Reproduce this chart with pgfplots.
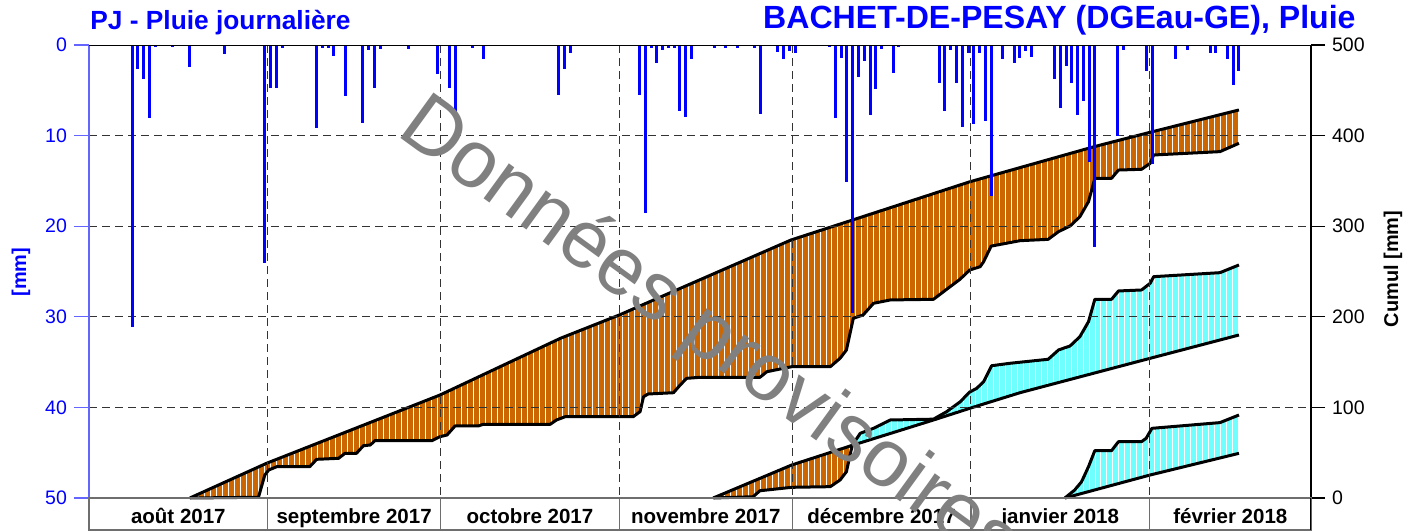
\documentclass[border=0pt]{standalone}
\usepackage{fontspec}
\setmainfont{Liberation Sans}
\usepackage{pgfplots}
\pgfplotsset{compat=1.18}
\usepgfplotslibrary{fillbetween}
\usetikzlibrary{patterns}
\definecolor{orangeC}{RGB}{204,102,0}
\definecolor{cyanC}{RGB}{110,255,255}
\definecolor{bandgray}{RGB}{110,110,110}
\definecolor{wmgray}{RGB}{128,128,128}
\definecolor{axblue}{RGB}{100,100,255}
\begin{document}
\begin{tikzpicture}
% ---------------- cumulative axis ----------------
\begin{axis}[
  at={(0,0)}, anchor=south west, scale only axis,
  width=611bp, height=226.5bp,
  xmin=0, xmax=212, ymin=0, ymax=500,
  axis x line=none, axis y line*=right,
  y axis line style={black, line width=0.6bp},
  ytick={0,100,200,300,400,500},
  tick align=outside, major tick length=7bp,
  ytick style={black, line width=0.6bp},
  yticklabel style={font=\fontsize{9.8}{11}\selectfont},
  /pgf/number format/assume math mode=true,
  clip=false,
]
\addplot[draw=none, name path=n1] coordinates {(17.5,0) (30.8,38.3) (60.9,113.7) (81.8,176.3) (92,202) (121.8,284.8) (132.5,306.9) (152.8,349) (174.4,387.8) (184,403.5) (199.5,428.3)};
\addplot[draw=none, name path=a1] coordinates {(17.5,0) (29.4,0.8) (30.5,25.4) (31.2,31) (32.6,34.6) (38.3,34.6) (39.5,42.7) (43.3,43.8) (44.4,49.3) (46.4,49.3) (47.6,57.7) (48.8,58.5) (49.6,63.3) (59.5,63.3) (60.9,67.7) (62.1,69.5) (63.5,79.5) (67.5,79.5) (68.4,81.3) (80,81.3) (81.1,86.1) (82.6,89.7) (94.4,89.7) (95.6,95.3) (96.2,111.8) (97,114.8) (101.4,116.2) (102.6,125) (103.7,132.1) (106,133.2) (116.4,133.2) (117.6,139.4) (121.9,144.9) (128.6,144.9) (130.3,154.2) (131.4,163.4) (132.6,198.4) (134.3,202) (136.1,214.9) (139,218.6) (146.5,219.3) (148.8,230.4) (151.1,241.4) (152.8,251.7) (154.6,255.3) (155.2,260.8) (156.5,278) (161.5,284) (166.4,285.5) (168.2,294) (170.2,300.2) (171.9,310.5) (173.4,327.1) (174.5,352.9) (177.4,352.9) (178.6,362) (182.6,362.8) (184.1,369.4) (184.7,378.6) (196.2,382.3) (199.5,391.5)};
\addplot[draw=none, name path=n2] coordinates {(108.3,0) (121.9,36.4) (132.4,58.1) (146.5,86.1) (152.8,99) (161.5,116.2) (184.1,154.2) (199.5,179.9)};
\addplot[draw=none, name path=a2] coordinates {(108.3,0) (115.2,1.4) (116.4,8) (121.9,11.8) (128.6,12.5) (130.3,19.9) (131.4,29) (132.4,58.1) (133.8,71.4) (136.1,76.9) (139,86.1) (146.5,87) (148.8,95.3) (151.1,106) (152.8,117) (154,121) (155.2,128.4) (156.6,146) (159.8,148.7) (166.4,153.1) (168.2,163.4) (170.2,167.8) (171.9,178) (173.4,194.6) (174.5,219.3) (177.4,219.3) (178.6,228.5) (182.6,229.6) (184.1,237) (184.7,244.3) (196.2,248.7) (199.5,257.2)};
\addplot[draw=none, name path=n3] coordinates {(169.3,0) (184.1,25.4) (199.5,49.3)};
\addplot[draw=none, name path=a3] coordinates {(169.3,0) (171,8.8) (172.2,18) (173.4,34.6) (174.5,52.3) (177.4,52.3) (178.6,62.2) (182.6,62.2) (183.4,65.9) (184.4,76.9) (196.2,83.2) (199.5,91.6)};
\addplot[fill=orangeC, draw=none, postaction={pattern=vertical lines, pattern color=white}] fill between[of=n1 and a1];
\addplot[fill=orangeC, draw=none, postaction={pattern=vertical lines, pattern color=white}] fill between[of=n2 and a2, soft clip={domain=108.3:132.4}];
\addplot[fill=cyanC, draw=none, postaction={pattern=vertical lines, pattern color=white}] fill between[of=n2 and a2, soft clip={domain=132.4:199.5}];
\addplot[fill=cyanC, draw=none, postaction={pattern=vertical lines, pattern color=white}] fill between[of=n3 and a3];
\addplot[black, line width=1.5bp, line join=round] coordinates {(17.5,0) (30.8,38.3) (60.9,113.7) (81.8,176.3) (92,202) (121.8,284.8) (132.5,306.9) (152.8,349) (174.4,387.8) (184,403.5) (199.5,428.3)};
\addplot[black, line width=1.5bp, line join=round] coordinates {(17.5,0) (29.4,0.8) (30.5,25.4) (31.2,31) (32.6,34.6) (38.3,34.6) (39.5,42.7) (43.3,43.8) (44.4,49.3) (46.4,49.3) (47.6,57.7) (48.8,58.5) (49.6,63.3) (59.5,63.3) (60.9,67.7) (62.1,69.5) (63.5,79.5) (67.5,79.5) (68.4,81.3) (80,81.3) (81.1,86.1) (82.6,89.7) (94.4,89.7) (95.6,95.3) (96.2,111.8) (97,114.8) (101.4,116.2) (102.6,125) (103.7,132.1) (106,133.2) (116.4,133.2) (117.6,139.4) (121.9,144.9) (128.6,144.9) (130.3,154.2) (131.4,163.4) (132.6,198.4) (134.3,202) (136.1,214.9) (139,218.6) (146.5,219.3) (148.8,230.4) (151.1,241.4) (152.8,251.7) (154.6,255.3) (155.2,260.8) (156.5,278) (161.5,284) (166.4,285.5) (168.2,294) (170.2,300.2) (171.9,310.5) (173.4,327.1) (174.5,352.9) (177.4,352.9) (178.6,362) (182.6,362.8) (184.1,369.4) (184.7,378.6) (196.2,382.3) (199.5,391.5)};
\addplot[black, line width=1.5bp, line join=round] coordinates {(108.3,0) (121.9,36.4) (132.4,58.1) (146.5,86.1) (152.8,99) (161.5,116.2) (184.1,154.2) (199.5,179.9)};
\addplot[black, line width=1.5bp, line join=round] coordinates {(108.3,0) (115.2,1.4) (116.4,8) (121.9,11.8) (128.6,12.5) (130.3,19.9) (131.4,29) (132.4,58.1) (133.8,71.4) (136.1,76.9) (139,86.1) (146.5,87) (148.8,95.3) (151.1,106) (152.8,117) (154,121) (155.2,128.4) (156.6,146) (159.8,148.7) (166.4,153.1) (168.2,163.4) (170.2,167.8) (171.9,178) (173.4,194.6) (174.5,219.3) (177.4,219.3) (178.6,228.5) (182.6,229.6) (184.1,237) (184.7,244.3) (196.2,248.7) (199.5,257.2)};
\addplot[black, line width=1.5bp, line join=round] coordinates {(169.3,0) (184.1,25.4) (199.5,49.3)};
\addplot[black, line width=1.5bp, line join=round] coordinates {(169.3,0) (171,8.8) (172.2,18) (173.4,34.6) (174.5,52.3) (177.4,52.3) (178.6,62.2) (182.6,62.2) (183.4,65.9) (184.4,76.9) (196.2,83.2) (199.5,91.6)};
\end{axis}
% ---------------- daily rain axis ----------------
\begin{axis}[
  at={(0,0)}, anchor=south west, scale only axis,
  width=611bp, height=226.5bp,
  xmin=0, xmax=212, ymin=0, ymax=50, y dir=reverse,
  axis y line*=left, axis x line*=bottom,
  x axis line style={draw=none},
  y axis line style={axblue, line width=0.6bp},
  xtick={31,61,92,122,153,184}, xticklabel=\empty, xtick style={draw=none},
  ytick={0,10,20,30,40,50},
  tick align=outside, major tick length=7.5bp,
  ytick style={axblue, line width=0.6bp},
  yticklabel style={font=\fontsize{9.8}{11}\selectfont, text=blue},
  /pgf/number format/assume math mode=true,
  xmajorgrids, ymajorgrids,
  major grid style={dash pattern=on 4bp off 2.5bp, line width=0.5bp, black!80},
]
\addplot[ycomb, blue, line width=1.5bp] coordinates {(7.5,31.1) (8.5,2.7) (9.5,3.7) (10.5,8.1) (11.5,0.25) (14.5,0.25) (17.5,2.4) (23.5,1.0) (30.5,24.1) (31.5,4.8) (32.5,4.8) (33.5,0.3) (39.5,9.2) (40.5,0.3) (41.5,0.3) (42.5,1.2) (44.5,5.6) (47.5,8.6) (48.5,0.6) (49.5,4.8) (50.5,0.4) (55.5,0.4) (60.5,3.2) (62.5,4.8) (63.5,7.8) (66.5,0.3) (68.5,1.5) (81.5,5.5) (82.5,2.7) (83.5,0.9) (95.5,5.5) (96.5,18.5) (97.5,0.3) (98.5,2.0) (99.5,0.6) (100.5,0.3) (101.5,0.3) (102.5,7.3) (103.5,7.9) (104.5,1.6) (108.5,0.3) (110.5,0.3) (112.5,0.3) (115.5,0.3) (116.5,7.6) (119.5,0.8) (120.5,1.6) (121.5,0.7) (122.5,0.9) (128.5,0.2) (129.5,8.1) (130.5,1.4) (131.5,15.1) (132.5,29.6) (133.5,3.5) (134.5,1.8) (135.5,7.7) (136.5,4.9) (137.5,0.4) (139.5,3.1) (140.5,0.2) (147.5,4.2) (148.5,7.3) (149.5,0.5) (150.5,4.2) (151.5,9.0) (152.5,0.9) (153.5,8.7) (154.5,0.9) (155.5,8.4) (156.5,16.7) (158.5,1.6) (160.5,2.0) (161.5,1.4) (162.5,0.7) (163.5,1.3) (167.5,3.7) (168.5,7.0) (169.5,2.3) (170.5,4.2) (171.5,7.7) (172.5,6.2) (173.5,12.9) (174.5,22.3) (178.5,10.0) (179.5,0.5) (183.5,2.9) (184.5,13.1) (188.5,1.6) (190.5,0.5) (194.5,0.9) (195.5,0.9) (197.5,1.5) (198.5,4.4) (199.5,2.9)};
\draw[black, line width=0.6bp] (axis cs:0,0) -- (axis cs:212,0);
\end{axis}
% ---------------- month band ----------------
\begin{axis}[
  at={(0,-16bp)}, anchor=south west, scale only axis,
  width=611bp, height=16bp,
  xmin=0, xmax=212, ymin=0, ymax=1,
  axis line style={bandgray, line width=0.6bp},
  ytick=\empty,
  xtick={15.5,46,76.5,107,137.5,168.5,198},
  xticklabels={août 2017,septembre 2017,octobre 2017,novembre 2017,décembre 2017,janvier 2018,février 2018},
  xtick style={draw=none},
  xticklabel style={anchor=base, yshift=3.5bp, font=\bfseries\fontsize{10.3}{12}\selectfont},
  minor xtick={31,61,92,122,153,184},
  xminorgrids, minor grid style={solid, bandgray, line width=0.6bp},
  minor tick length=0pt,
]
\draw[black, line width=0.6bp] (axis cs:212,0) -- (axis cs:212,1);
\end{axis}
% ---------------- texts ----------------
\node[anchor=base west, inner sep=0, text=blue, font=\bfseries\fontsize{13.2}{15}\selectfont] at (0.5bp,234bp) {PJ - Pluie journalière};
\node[anchor=base east, inner sep=0, text=blue, font=\bfseries\fontsize{16.1}{18}\selectfont] at (633.5bp,234.8bp) {BACHET-DE-PESAY (DGEau-GE), Pluie};
\node[rotate=90, inner sep=0, text=blue, font=\bfseries\fontsize{10}{12}\selectfont] at (-34bp,113bp) {[mm]};
\node[rotate=90, inner sep=0, font=\bfseries\fontsize{10}{12}\selectfont] at (652bp,114.5bp) {Cumul [mm]};
\node[rotate=-36, text=wmgray, font=\fontsize{41}{48}\selectfont] at (310bp,81bp) {Données provisoires};
\pgfresetboundingbox
\path[use as bounding box] (-44.5bp,-16.5bp) rectangle (657.5bp,249bp);
\end{tikzpicture}
\end{document}
